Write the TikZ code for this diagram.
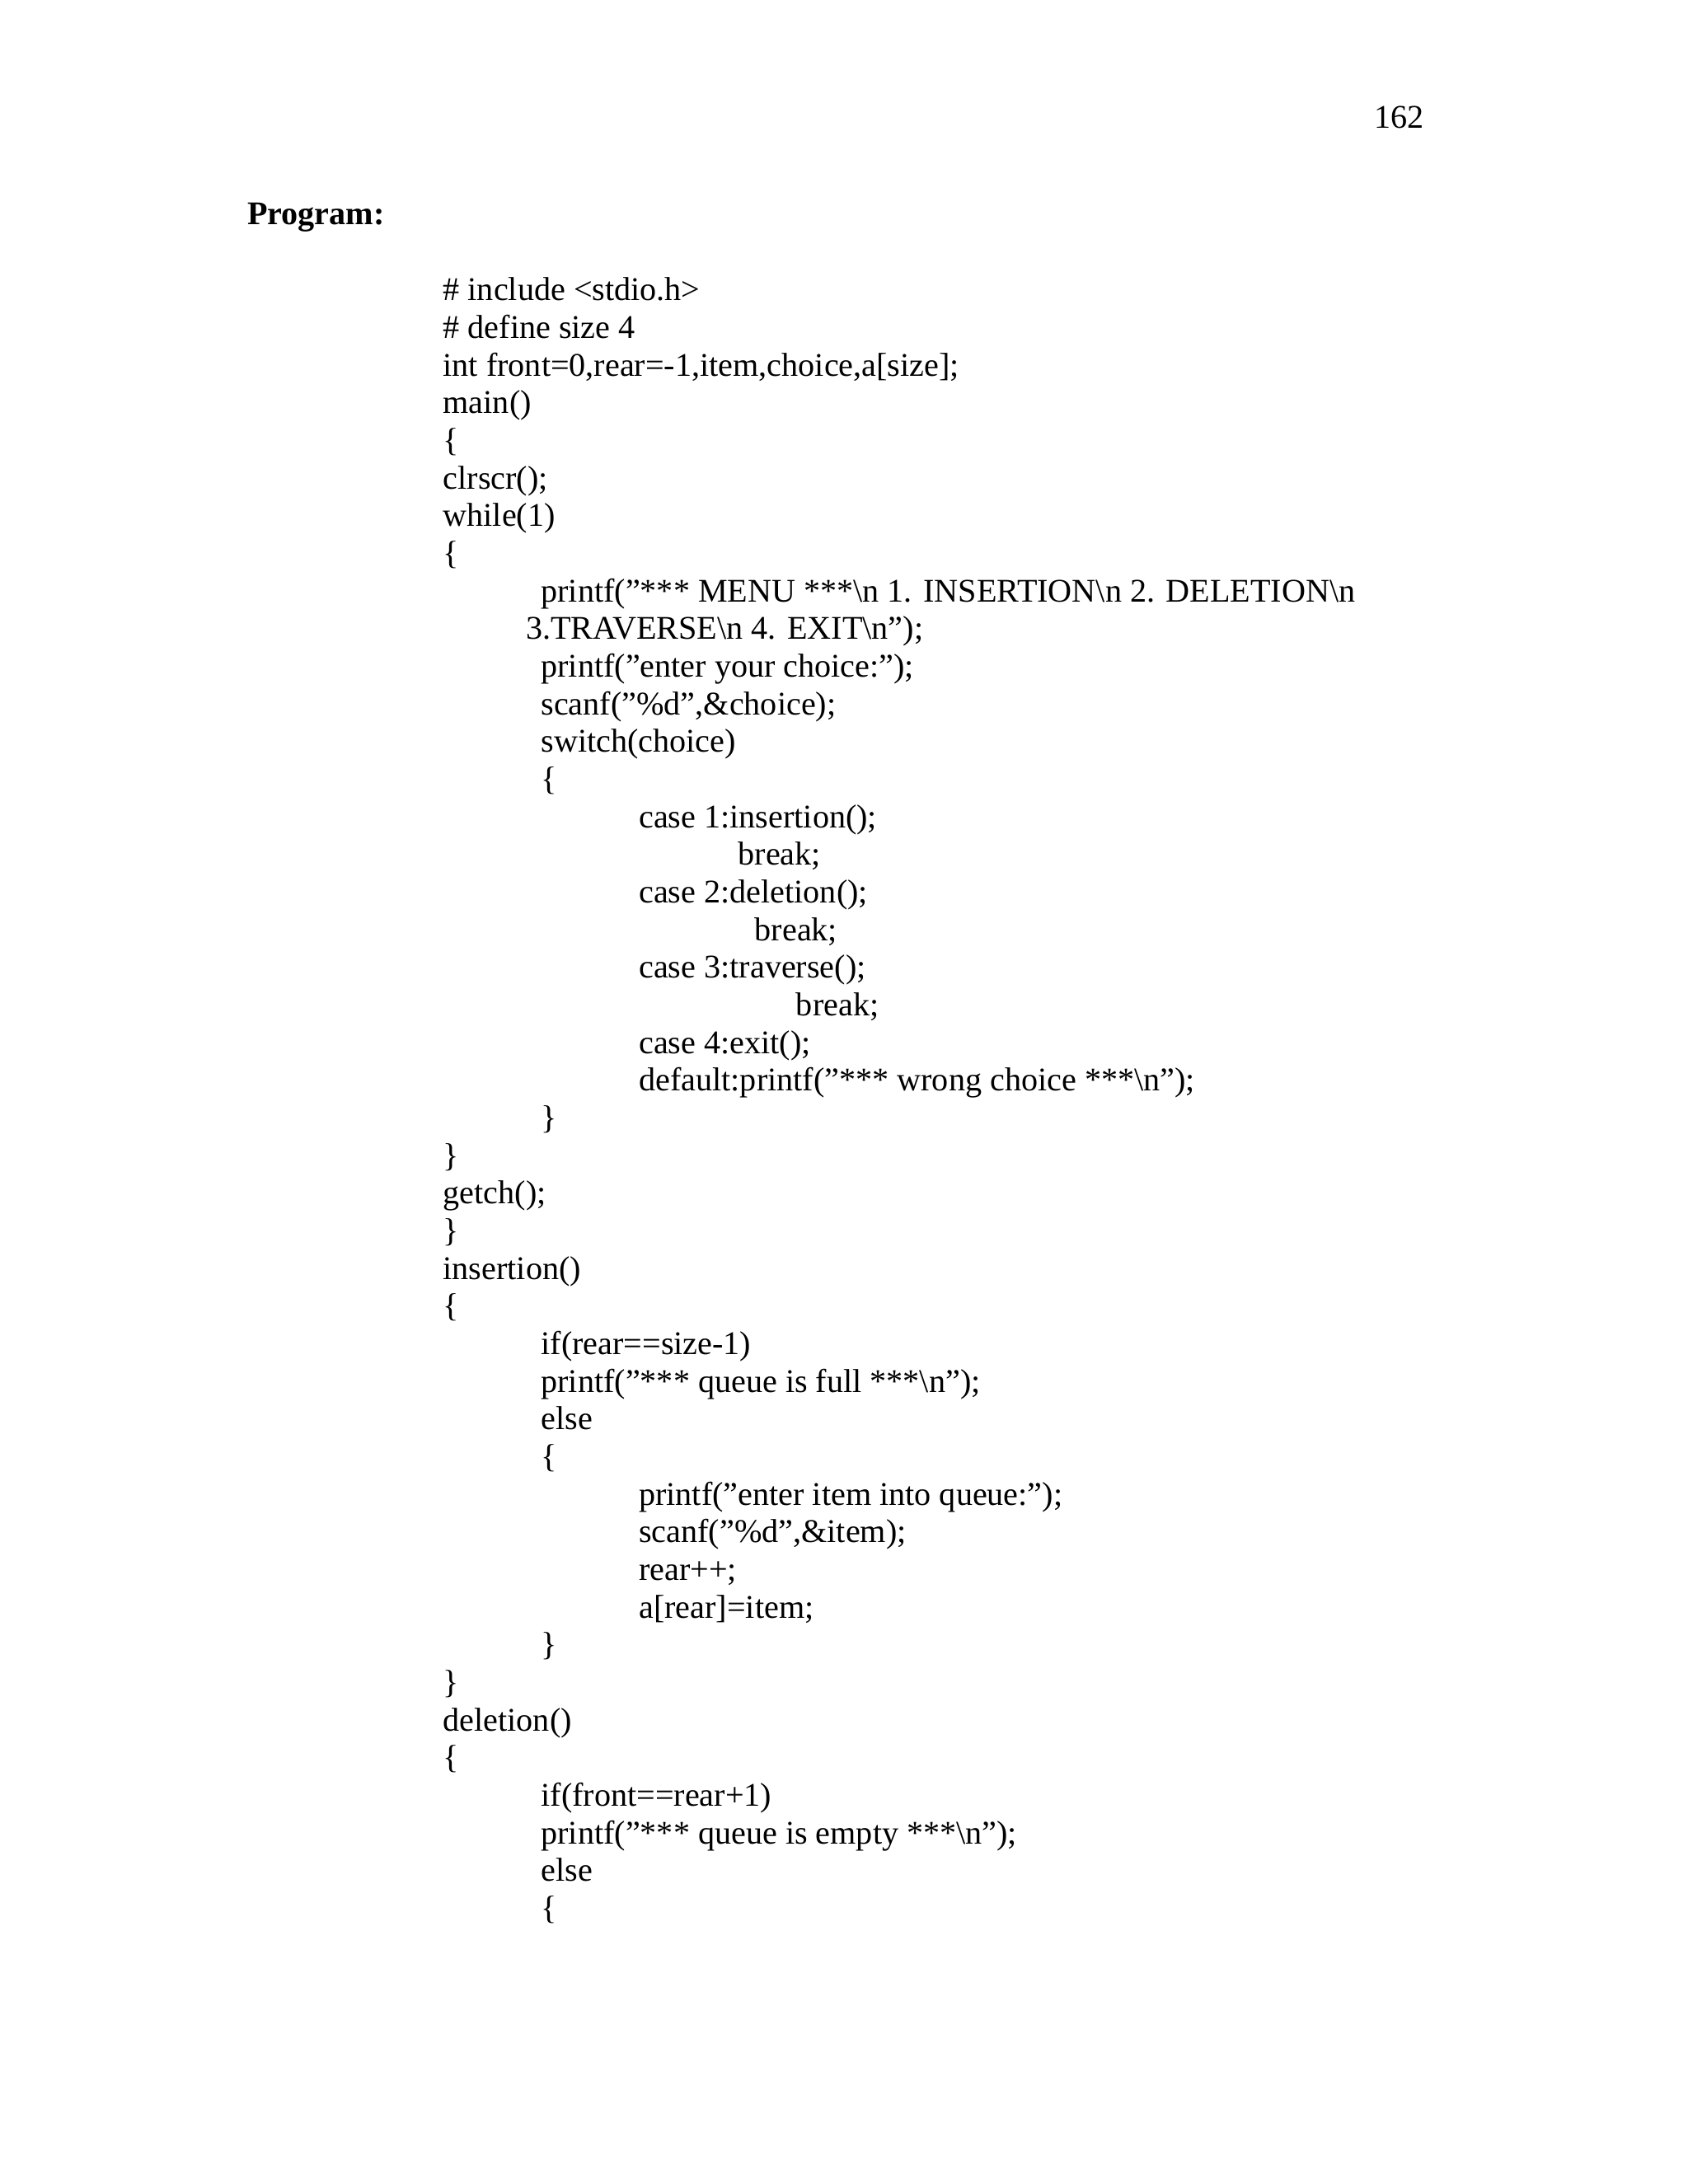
\documentclass[tikz,border=0pt]{standalone}
\usepackage{fontspec}
\setmainfont{Liberation Serif}
\begin{document}
\begin{tikzpicture}[x=1pt,y=1pt,
  ln/.style={anchor=base west,inner sep=0pt,font=\fontsize{12}{14}\selectfont}]
\useasboundingbox[fill=white] (0,0) rectangle (612,-792);
\node[ln,anchor=base east] (pg) at (516.5,-46.5) {162};
\node[ln,font=\fontsize{12}{14}\selectfont\bfseries] (prog) at (89.5,-81.5) {Program:};
\def\A{160.5}\def\B{196}\def\C{231.5}
\newcommand\cl[4]{\node[ln] (#1) at (#2,{-(109+13.65*#3)}) {#4};}
\cl{l0}{\A}{0}{\# include <stdio.h>}
\cl{l1}{\A}{1}{\# define size 4}
\cl{l2}{\A}{2}{int front=0,rear=-1,item,choice,a[size];}
\cl{l3}{\A}{3}{main()}
\cl{l4}{\A}{4}{\{}
\cl{l5}{\A}{5}{clrscr();}
\cl{l6}{\A}{6}{while(1)}
\cl{l7}{\A}{7}{\{}
\cl{l8}{\B}{8}{printf("*** MENU ***\textbackslash n 1. INSERTION\textbackslash n 2. DELETION\textbackslash n}
\cl{l9}{190.5}{9}{3.TRAVERSE\textbackslash n 4. EXIT\textbackslash n");}
\cl{l10}{\B}{10}{printf("enter your choice:");}
\cl{l11}{\B}{11}{scanf("\%d",\&choice);}
\cl{l12}{\B}{12}{switch(choice)}
\cl{l13}{\B}{13}{\{}
\cl{l14}{\C}{14}{case 1:insertion();}
\cl{l15}{267.5}{15}{break;}
\cl{l16}{\C}{16}{case 2:deletion();}
\cl{l17}{273.5}{17}{break;}
\cl{l18}{\C}{18}{case 3:traverse();}
\cl{l19}{288.5}{19}{break;}
\cl{l20}{\C}{20}{case 4:exit();}
\cl{l21}{\C}{21}{default:printf("*** wrong choice ***\textbackslash n");}
\cl{l22}{\B}{22}{\}}
\cl{l23}{\A}{23}{\}}
\cl{l24}{\A}{24}{getch();}
\cl{l25}{\A}{25}{\}}
\cl{l26}{\A}{26}{insertion()}
\cl{l27}{\A}{27}{\{}
\cl{l28}{\B}{28}{if(rear==size-1)}
\cl{l29}{\B}{29}{printf("*** queue is full ***\textbackslash n");}
\cl{l30}{\B}{30}{else}
\cl{l31}{\B}{31}{\{}
\cl{l32}{\C}{32}{printf("enter item into queue:");}
\cl{l33}{\C}{33}{scanf("\%d",\&item);}
\cl{l34}{\C}{34}{rear++;}
\cl{l35}{\C}{35}{a[rear]=item;}
\cl{l36}{\B}{36}{\}}
\cl{l37}{\A}{37}{\}}
\cl{l38}{\A}{38}{deletion()}
\cl{l39}{\A}{39}{\{}
\cl{l40}{\B}{40}{if(front==rear+1)}
\cl{l41}{\B}{41}{printf("*** queue is empty ***\textbackslash n");}
\cl{l42}{\B}{42}{else}
\cl{l43}{\B}{43}{\{}
\end{tikzpicture}
\end{document}
